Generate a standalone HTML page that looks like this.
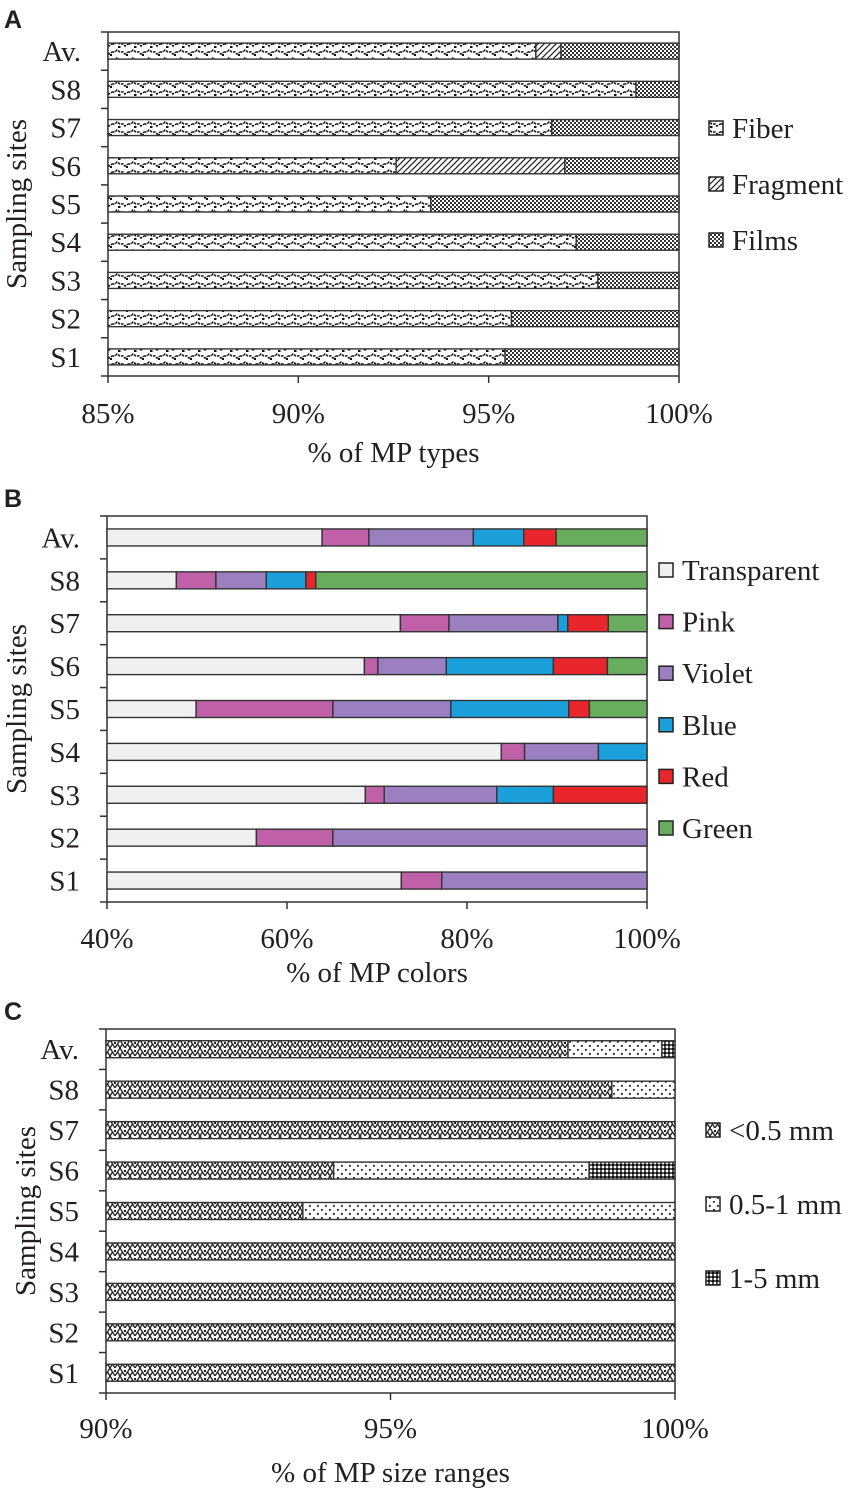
<!DOCTYPE html>
<html><head><meta charset="utf-8"><style>
html,body{margin:0;padding:0;background:#fff}
svg{display:block}
text{font-family:"Liberation Serif",serif;fill:#231f20}
.pl{font-family:"Liberation Sans",sans-serif;font-weight:bold;font-size:25px}
</style></head><body>
<svg id="fig" width="854" height="1492" viewBox="0 0 854 1492" xmlns="http://www.w3.org/2000/svg">
<defs>
<pattern id="pFiber" width="16" height="16" patternUnits="userSpaceOnUse">
<rect width="16" height="16" fill="#fff"/>
<path d="M0 4 L3 4 L5 2 L8 4 L11 4 L13 6 L16 4" stroke="#111" stroke-width="1.5" fill="none" stroke-dasharray="2.5 1"/>
<path d="M0 12 L3 12 L5 10 L8 12 L11 12 L13 14 L16 12" stroke="#111" stroke-width="1.5" fill="none" stroke-dasharray="2.5 1"/>
<rect x="6" y="14" width="2.5" height="2" fill="#111"/>
<rect x="14" y="6" width="2.5" height="2" fill="#111"/>
</pattern>
<pattern id="pFrag" width="6" height="6" patternUnits="userSpaceOnUse">
<rect width="6" height="6" fill="#fff"/>
<path d="M-1 7 L7 -1 M-1 1 L1 -1 M5 7 L7 5" stroke="#222" stroke-width="1.2"/>
</pattern>
<pattern id="pFilm" width="4" height="4" patternUnits="userSpaceOnUse">
<rect width="4" height="4" fill="#fff"/>
<rect x="0" y="0" width="2" height="2" fill="#333"/>
<rect x="2" y="2" width="2" height="2" fill="#333"/>
</pattern>
<pattern id="pSmall" width="10" height="8" patternUnits="userSpaceOnUse">
<rect width="10" height="8" fill="#fff"/>
<path d="M0 0 L5 8 L10 0 M0 8 L2.5 4 M10 8 L7.5 4" stroke="#222" stroke-width="1.3" fill="none"/>
<rect x="4" y="2" width="2" height="2" fill="#222"/>
</pattern>
<pattern id="pMid" width="8" height="8" patternUnits="userSpaceOnUse">
<rect width="8" height="8" fill="#fff"/>
<rect x="1" y="1" width="1.8" height="1.8" fill="#222"/>
<rect x="5" y="5" width="1.8" height="1.8" fill="#222"/>
</pattern>
<pattern id="pLarge" width="4" height="4" patternUnits="userSpaceOnUse">
<rect width="4" height="4" fill="#555"/>
<rect x="0" y="0" width="2" height="2" fill="#111"/>
<rect x="2" y="2" width="2" height="2" fill="#fff"/>
</pattern>
</defs>
<text class="pl" x="4" y="28">A</text>
<text class="pl" x="4" y="507">B</text>
<text class="pl" x="4" y="1020">C</text>
<g id="gA"></g><g id="gB"></g><g id="gC"></g>
</svg>
<script>
const NS='http://www.w3.org/2000/svg';
const sites=['Av.','S8','S7','S6','S5','S4','S3','S2','S1'];
// Panel A: MP types (%)
const typeNames=['Fiber','Fragment','Films'];
const fiberA=[96.24,98.87,96.66,92.57,93.48,97.3,97.87,95.6,95.43];
const fragmentA=[0.66,0,0,4.43,0,0,0,0,0];
const filmsA=[3.1,1.13,3.34,3.0,6.52,2.7,2.13,4.4,4.57];
const ticksA=['85%','90%','95%','100%'];
const tickValsA=[85,90,95,100];
// Panel B: colors (%)
const colorNames=['Transparent','Pink','Violet','Blue','Red','Green'];
const transparentB=[63.9,47.7,72.6,68.6,49.9,83.8,68.7,56.6,72.7];
const pinkB=[5.2,4.4,5.4,1.5,15.2,2.6,2.1,8.5,4.5];
const violetB=[11.6,5.6,12.1,7.6,13.1,8.2,12.5,34.9,22.8];
const blueB=[5.6,4.4,1.1,11.9,13.1,5.4,6.3,0,0];
const redB=[3.6,1.1,4.5,6.0,2.3,0,10.4,0,0];
const greenB=[10.1,36.8,4.3,4.4,6.4,0,0,0,0];
const ticksB=['40%','60%','80%','100%'];
const tickValsB=[40,60,80,100];
// Panel C: size ranges (%)
const sizeNames=['<0.5 mm','0.5-1 mm','1-5 mm'];
const smallC=[98.12,98.89,100,94.0,93.46,100,100,100,100];
const midC=[1.65,1.11,0,4.49,6.54,0,0,0,0];
const largeC=[0.23,0,0,1.51,0,0,0,0,0];
const ticksC=['90%','95%','100%'];
const tickValsC=[90,95,100];

function el(tag,attrs,parent,txt){const e=document.createElementNS(NS,tag);for(const k in attrs)e.setAttribute(k,attrs[k]);if(txt!==undefined)e.textContent=txt;parent.appendChild(e);return e;}

function panel(g,cfg){
  const {x0,x1,y0,y1,min,max,series,fills,names,ticks,tickVals,xTitle,legX,legY,legStep,key,barH,tickY,titleY}=cfg;
  const FS=29;
  const sx=v=>x0+(v-min)/(max-min)*(x1-x0);
  const n=sites.length, step=(y1-y0)/n;
  const frame=el('rect',{x:x0,y:y0,width:x1-x0,height:y1-y0,fill:'none',stroke:'#333','stroke-width':1.5},g);
  
  
  for(let i=0;i<=n;i++){const t=el('line',{x1:x0-7,x2:x0,y1:y0+i*step,y2:y0+i*step,stroke:'#333','stroke-width':1.5},g);
    
    }
  sites.forEach((s,i)=>{
    const cy=y0+(i+0.5)*step;
    const lab=el('text',{x:x0-27,y:cy+10,'text-anchor':'end','font-size':FS},g,s);
    
    
    let acc=0;
    series.forEach((arr,j)=>{
      const v=arr[i]; if(v<=0)return;
      const a=acc, b=acc+v;
      if(b>min){const xa=sx(Math.max(a,min)), xb=sx(Math.min(b,max));
        if(xb>xa){const r=el('rect',{x:xa,y:cy-barH/2,width:xb-xa,height:barH,fill:fills[j],stroke:'#333','stroke-width':1.4},g);
          
          }}
      acc=b;
    });
  });
  ticks.forEach((t,i)=>{
    const x=sx(tickVals[i]);
    const tk=el('line',{x1:x,x2:x,y1:y1,y2:y1+7,stroke:'#333','stroke-width':1.5},g);
    
    
    const tl=el('text',{x:x,y:tickY,'text-anchor':'middle','font-size':FS},g,t);
    
    
  });
  const xt=el('text',{x:(x0+x1)/2,y:titleY,'text-anchor':'middle','font-size':FS},g,xTitle);
  
  
  const yt=el('text',{x:0,y:0,'text-anchor':'middle','font-size':FS,transform:`translate(${cfg.ytX},${(y0+y1)/2}) rotate(-90)`},g,'Sampling sites');
  
  
  names.forEach((nm,j)=>{
    const y=legY+j*legStep;
    const sw=el('rect',{x:legX,y:y-7,width:14,height:14,fill:fills[j],stroke:'#222','stroke-width':1.5},g);
    
    
    const lt=el('text',{x:legX+23,y:y+10,'font-size':FS},g,nm);
    
    
  });
}
panel(document.getElementById('gA'),{key:'types',x0:108,x1:679,y0:32,y1:376,min:85,max:100,
  series:[fiberA,fragmentA,filmsA],fills:['url(#pFiber)','url(#pFrag)','url(#pFilm)'],names:typeNames,
  ticks:ticksA,tickVals:tickValsA,xTitle:'% of MP types',legX:709,legY:128,legStep:56,barH:16,tickY:423,titleY:462,ytX:26});
panel(document.getElementById('gB'),{key:'colors',x0:107,x1:647,y0:516,y1:902,min:40,max:100,
  series:[transparentB,pinkB,violetB,blueB,redB,greenB],fills:['#f0f0f0','#c060a8','#9a80c0','#1ca0dc','#e8262c','#68ad5e'],names:colorNames,
  ticks:ticksB,tickVals:tickValsB,xTitle:'% of MP colors',legX:659,legY:570,legStep:51.6,barH:17,tickY:948,titleY:982,ytX:26});
panel(document.getElementById('gC'),{key:'sizes',x0:106,x1:675,y0:1029,y1:1393,min:90,max:100,
  series:[smallC,midC,largeC],fills:['url(#pSmall)','url(#pMid)','url(#pLarge)'],names:sizeNames,
  ticks:ticksC,tickVals:tickValsC,xTitle:'% of MP size ranges',legX:706,legY:1130,legStep:74,barH:17,tickY:1438,titleY:1482,ytX:35});
</script>
</body></html>
